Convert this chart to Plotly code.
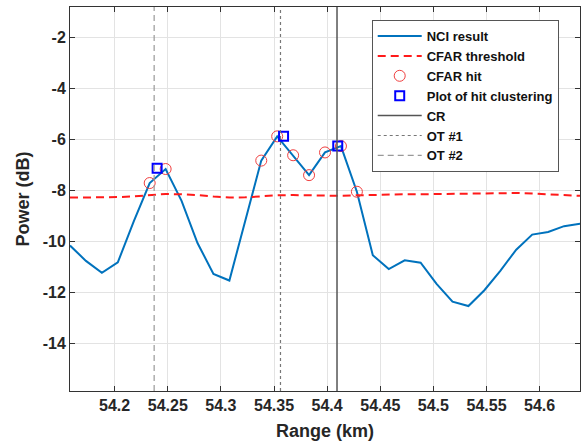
import plotly.graph_objects as go

# ---- data ----
range_km = [54.158, 54.173, 54.188, 54.203, 54.218, 54.233, 54.248, 54.263, 54.278,
            54.293, 54.308, 54.323, 54.338, 54.353, 54.368, 54.383, 54.398, 54.413,
            54.428, 54.443, 54.458, 54.473, 54.488, 54.503, 54.518, 54.533, 54.548,
            54.563, 54.578, 54.593, 54.608, 54.623, 54.638]
nci_db = [-10.15, -10.75, -11.22, -10.81, -9.2, -7.7, -7.15, -8.4, -10.05,
          -11.26, -11.52, -9.2, -6.82, -5.87, -6.61, -7.39, -6.5, -6.25,
          -8.04, -10.53, -11.07, -10.73, -10.82, -11.65, -12.35, -12.52, -11.9,
          -11.14, -10.31, -9.72, -9.62, -9.39, -9.29]
cfar_db = [-8.27, -8.27, -8.26, -8.25, -8.22, -8.17, -8.13, -8.14, -8.17,
           -8.23, -8.27, -8.26, -8.22, -8.18, -8.17, -8.18, -8.19, -8.2,
           -8.18, -8.16, -8.15, -8.14, -8.14, -8.13, -8.13, -8.12, -8.1,
           -8.09, -8.09, -8.11, -8.14, -8.17, -8.2]
hit_idx = [5, 6, 12, 13, 14, 15, 16, 17, 18]
cluster_km = [54.240, 54.359, 54.410]
cluster_db = [-7.12, -5.87, -6.25]
cr_km = 54.4093
ot1_km = 54.3561
ot2_km = 54.2372
x_ticks = [54.2, 54.25, 54.3, 54.35, 54.4, 54.45, 54.5, 54.55, 54.6]
x_tick_text = ["54.2", "54.25", "54.3", "54.35", "54.4", "54.45", "54.5", "54.55", "54.6"]
y_ticks = [-14, -12, -10, -8, -6, -4, -2]
y_tick_text = ["-14", "-12", "-10", "-8", "-6", "-4", "-2"]
y_range = [-15.85, -0.8]

hit_km = [range_km[i] for i in hit_idx]
hit_db = [nci_db[i] for i in hit_idx]

FONT = "Liberation Sans, Arial, sans-serif"

fig = go.Figure()
fig.add_trace(go.Scatter(x=range_km, y=nci_db, mode="lines", name="NCI result",
                         line=dict(color="#0072BD", width=2)))
fig.add_trace(go.Scatter(x=range_km, y=cfar_db, mode="lines", name="CFAR threshold",
                         line=dict(color="#FF1A1A", width=2, dash="8px,5px")))
fig.add_trace(go.Scatter(x=hit_km, y=hit_db, mode="markers", name="CFAR hit",
                         marker=dict(symbol="circle-open", size=11, color="#F04040",
                                     line=dict(width=1))))
fig.add_trace(go.Scatter(x=cluster_km, y=cluster_db, mode="markers",
                         name="Plot of hit clustering",
                         marker=dict(symbol="square-open", size=9, color="#0000FF",
                                     line=dict(width=2))))
fig.add_trace(go.Scatter(x=[cr_km, cr_km], y=y_range, mode="lines", name="CR",
                         line=dict(color="#555555", width=1.5)))
fig.add_trace(go.Scatter(x=[ot1_km, ot1_km], y=y_range, mode="lines", name="OT #1",
                         line=dict(color="#777777", width=1.2, dash="dot")))
fig.add_trace(go.Scatter(x=[ot2_km, ot2_km], y=y_range, mode="lines", name="OT #2",
                         line=dict(color="#999999", width=1.2, dash="6px,4px")))

axis_common = dict(showgrid=True, gridcolor="#E3E3E3", gridwidth=1,
                   showline=True, linecolor="#333333", linewidth=1,
                   mirror="allticks", ticks="inside", ticklen=5, tickcolor="#333333",
                   zeroline=False,
                   tickfont=dict(family=FONT, size=16, color="#262626", weight="bold"))

fig.update_xaxes(range=[range_km[0], range_km[-1]], tickvals=x_ticks, ticktext=x_tick_text,
                 title=dict(text="Range (km)", standoff=11,
                            font=dict(family=FONT, size=18, color="#262626", weight="bold")),
                 **axis_common)
fig.update_yaxes(range=y_range, tickvals=y_ticks, ticktext=y_tick_text,
                 title=dict(text="Power (dB)", standoff=8,
                            font=dict(family=FONT, size=18, color="#262626", weight="bold")),
                 **axis_common)

fig.update_layout(
    width=582, height=445,
    margin=dict(l=70, r=2, t=7, b=54),
    plot_bgcolor="white", paper_bgcolor="white",
    font=dict(family=FONT),
    legend=dict(x=0.5916, y=0.966, xanchor="left", yanchor="top",
                bgcolor="white", bordercolor="#555555", borderwidth=1,
                font=dict(family=FONT, size=13, color="#111111", weight="bold"),
                tracegroupgap=0, itemwidth=44),
)

fig.write_html("out.html")
